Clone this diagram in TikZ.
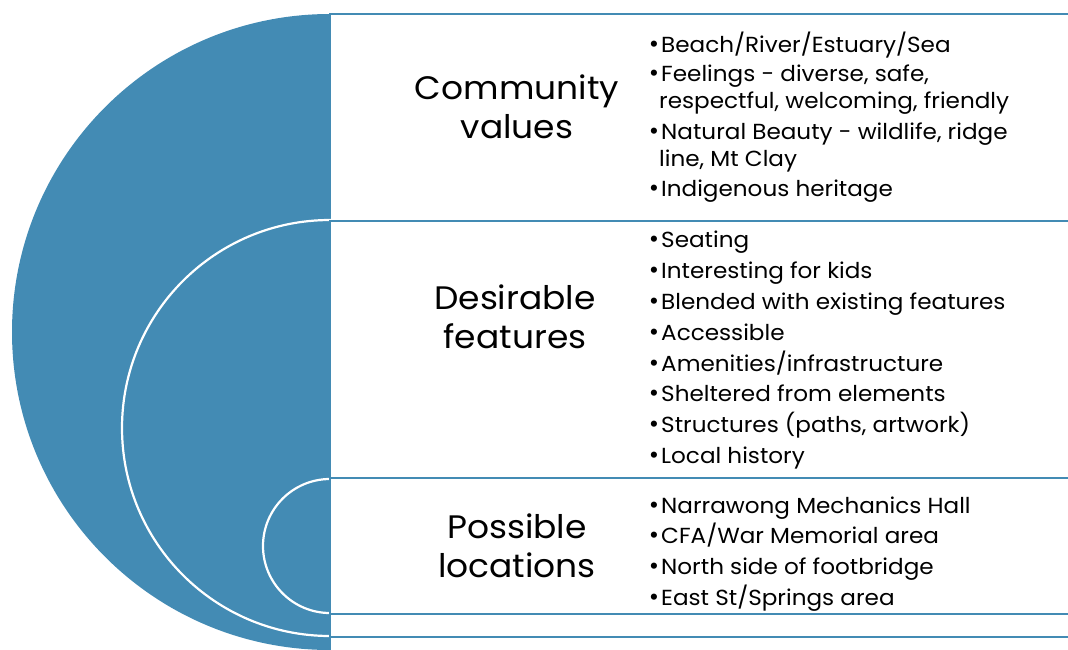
\documentclass[tikz,border=0pt]{standalone}
\usepackage{fontspec}
\setmainfont{Poppins}
\newfontfamily\wide[FakeStretch=1.06]{Poppins}
\definecolor{tblue}{RGB}{67,139,180}
\begin{document}
\begin{tikzpicture}[x=1pt,y=-1pt,
  ring/.style={fill=tblue, draw=white, line width=2.2pt},
  panel/.style={fill=white, draw=tblue, line width=2.2pt},
  head/.style={font=\wide\fontsize{32.5}{37}\selectfont, anchor=base, inner sep=0pt},
  itm/.style={font=\wide\fontsize{21.8}{26}\selectfont, anchor=base west, inner sep=0pt},
  bul/.style={font=\fontsize{25}{26}\selectfont, anchor=base, inner sep=0pt}]
\useasboundingbox (0,0) rectangle (1068,649);
\clip (0,0) rectangle (1068,649);
% nested target
\fill[tblue] (330,332) circle[radius=318pt];
\draw[panel] (330,14) rectangle (1090,660);
\draw[ring] (330,428) circle[radius=208pt];
\draw[panel] (330,221) rectangle (1090,637);
\draw[ring] (330,546) circle[radius=67pt];
\draw[panel] (330,478) rectangle (1090,614);
% headings
\node[head] (h1a) at (517,99) {Community};
\node[head] (h1b) at (517,138) {values};
\node[head] (h2a) at (515,309) {Desirable};
\node[head] (h2b) at (515,348) {features};
\node[head] (h3a) at (517,538) {Possible};
\node[head] (h3b) at (517,577) {locations};
% section 1
\foreach \y/\t [count=\i] in {52/{Beach/River/Estuary/Sea},81/{Feelings - diverse, safe,},139/{Natural Beauty - wildlife, ridge},196/{Indigenous heritage}}{
  \node[bul] (b1\i) at (654,\y) {•};
  \node[itm] (t1\i) at (661,\y) {\t};
}
\node[itm] (c11) at (659,108) {respectful, welcoming, friendly};
\node[itm] (c12) at (659,166) {line, Mt Clay};
% section 2
\foreach \y/\t [count=\i] in {247.5/{Seating},278.4/{Interesting for kids},309.2/{Blended with existing features},340.1/{Accessible},371/{Amenities/infrastructure},401.8/{Sheltered from elements},432.7/{Structures (paths, artwork)},463.5/{Local history}}{
  \node[bul] (b2\i) at (654,\y) {•};
  \node[itm] (t2\i) at (661,\y) {\t};
}
% section 3
\foreach \y/\t [count=\i] in {513/{Narrawong Mechanics Hall},543.7/{CFA/War Memorial area},574.3/{North side of footbridge},605/{East St/Springs area}}{
  \node[bul] (b3\i) at (654,\y) {•};
  \node[itm] (t3\i) at (661,\y) {\t};
}
\end{tikzpicture}
\end{document}
